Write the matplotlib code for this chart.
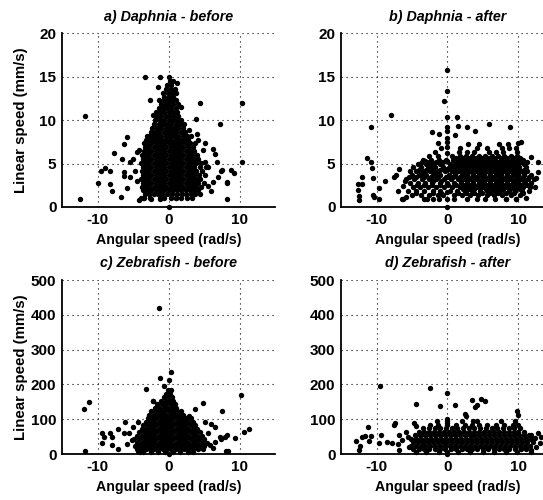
import matplotlib
matplotlib.use("Agg")
import matplotlib.pyplot as plt
import numpy as np

plt.rcParams['font.family'] = ['Liberation Sans', 'DejaVu Sans']
plt.rcParams['font.weight'] = 'bold'
plt.rcParams['axes.unicode_minus'] = False

# ---------------- data ----------------
titles = ["a) Daphnia - before", "b) Daphnia - after",
          "c) Zebrafish - before", "d) Zebrafish - after"]
x_label = "Angular speed (rad/s)"
y_label = "Linear speed (mm/s)"
x_ticks = [-10, 0, 10]
y_ticks_daphnia = [0, 5, 10, 15, 20]
y_ticks_zebrafish = [0, 100, 200, 300, 400, 500]

# dense cores: linear speed -> list of angular speeds
daphnia_before_core = {
    1.0: [-3.9, -3.5, -2.6, -1.2, -0.6, 0.3, 1.1, 1.7, 2.6, 3.3],
    1.45: [-3.3, -2.7, -2.0, -1.5, -0.9, -0.2, 0.5, 1.2, 1.9, 2.5, 3.1, 3.7, 4.5],
    1.9: [-3.6, -3.0, -2.4, -1.8, -1.2, -0.6, 0.0, 0.6, 1.2, 1.8, 2.4, 3.0, 3.6, 4.2],
    2.35: [-3.8, -3.3, -2.7, -2.1, -1.5, -0.9, -0.3, 0.3, 0.9, 1.5, 2.1, 2.7, 3.3, 3.9, 4.6],
    2.8: [-3.6, -3.0, -2.4, -1.8, -1.2, -0.6, 0.0, 0.6, 1.2, 1.8, 2.4, 3.0, 3.6, 4.2, 5.0],
    3.25: [-3.9, -3.3, -2.7, -2.1, -1.5, -0.9, -0.3, 0.3, 0.9, 1.5, 2.1, 2.7, 3.3, 3.9, 4.5],
    3.7: [-3.6, -3.0, -2.4, -1.8, -1.2, -0.6, 0.0, 0.6, 1.2, 1.8, 2.4, 3.0, 3.6, 4.3, 5.1],
    4.15: [-3.8, -3.3, -2.7, -2.1, -1.5, -0.9, -0.3, 0.3, 0.9, 1.5, 2.1, 2.7, 3.3, 3.9, 4.7],
    4.6: [-3.6, -3.0, -2.4, -1.8, -1.2, -0.6, 0.0, 0.6, 1.2, 1.8, 2.4, 3.0, 3.6, 4.4, 5.3],
    5.05: [-3.9, -3.3, -2.7, -2.1, -1.5, -0.9, -0.3, 0.3, 0.9, 1.5, 2.1, 2.7, 3.3, 3.9, 4.6],
    5.5: [-3.6, -3.0, -2.4, -1.8, -1.2, -0.6, 0.0, 0.6, 1.2, 1.8, 2.4, 3.0, 3.6, 4.2],
    5.95: [-3.8, -3.3, -2.7, -2.1, -1.5, -0.9, -0.3, 0.3, 0.9, 1.5, 2.1, 2.7, 3.3, 4.0],
    6.4: [-3.5, -3.0, -2.4, -1.8, -1.2, -0.6, 0.0, 0.6, 1.2, 1.8, 2.4, 3.0, 3.6],
    6.85: [-3.3, -2.7, -2.1, -1.5, -0.9, -0.3, 0.3, 0.9, 1.5, 2.1, 2.7, 3.4],
    7.3: [-3.5, -3.0, -2.4, -1.8, -1.2, -0.6, 0.0, 0.6, 1.2, 1.8, 2.4, 3.0, 3.7],
    7.75: [-3.1, -2.5, -1.9, -1.4, -0.8, -0.2, 0.4, 1.0, 1.6, 2.2, 2.8],
    8.2: [-2.8, -2.2, -1.6, -1.0, -0.4, 0.2, 0.8, 1.4, 2.0, 2.6, 3.2],
    8.65: [-2.5, -1.9, -1.3, -0.7, -0.1, 0.5, 1.1, 1.7, 2.3],
    9.1: [-2.3, -1.6, -1.0, -0.4, 0.2, 0.8, 1.4, 2.0],
    9.55: [-2.1, -1.4, -0.8, -0.2, 0.4, 1.0, 1.6, 2.2],
    10.0: [-1.9, -1.2, -0.6, 0.0, 0.6, 1.2, 1.7],
    10.45: [-1.6, -1.0, -0.4, 0.2, 0.8, 1.4],
    10.9: [-1.8, -1.2, -0.6, 0.0, 0.6, 1.2],
    11.35: [-1.4, -0.8, -0.2, 0.4, 1.0],
    11.8: [-1.1, -0.5, 0.1, 0.7, 1.3],
    12.25: [-1.3, -0.7, -0.1, 0.5, 1.0],
    12.7: [-0.6, 0.0, 0.6],
    13.15: [-0.8, -0.1, 0.5, 1.0],
    13.6: [-0.4, 0.3, 0.9],
    14.05: [-0.2, 0.4],
    14.5: [0.2, 0.7],
}
daphnia_before_scatter = [
    (-12.5, 0.9), (-11.7, 10.5), (10.4, 12.0), (10.4, 5.2), (8.2, 0.9), (4.4, 12.0),
    (3.9, 10.1), (7.3, 9.5), (-3.3, 14.9), (-1.2, 15.0), (0.0, 15.0), (-9.9, 2.8),
    (-9.5, 4.1), (-8.9, 4.5), (-8.2, 4.1), (-8.3, 2.6), (-7.9, 1.8), (-7.7, 6.2),
    (-6.7, 1.1), (-6.3, 7.2), (-6.6, 5.5), (-5.8, 8.0), (-6.3, 4.0), (-6.2, 3.6),
    (-5.8, 2.2), (-5.4, 3.4), (-5.4, 5.2), (-5.0, 5.5), (-4.7, 4.1), (-4.5, 6.3),
    (-4.1, 6.6), (-4.4, 3.0), (-4.1, 0.8), (-3.6, 1.0), (-2.4, 0.9), (5.2, 7.3),
    (6.2, 6.7), (6.6, 6.1), (6.8, 5.2), (7.0, 3.4), (7.4, 4.1), (8.2, 2.8),
    (8.8, 4.2), (9.2, 3.9), (6.0, 1.8), (6.2, 2.9), (5.6, 4.6), (5.5, 2.4),
    (4.0, 8.4), (2.9, 8.9), (1.8, 11.5), (-2.6, 12.3), (-2.2, 10.6), (-1.5, 13.8),
    (1.2, 14.2), (0.8, 13.4), (-3.0, 8.2), (0.0, 0.0), (-1.2, 0.9), (1.1, 1.0),
    (5.1, 5.2), (7.6, 4.3), (8.3, 2.9), (4.8, 6.6), (4.1, 7.7),
]

daphnia_after_core = {
    0.95: [-6.2, -3.3, -2.9, -2.0, -1.2, 0.9, 2.7, 4.1, 5.3, 6.7, 8.3, 9.6],
    1.4: [-5.0, -3.8, -2.6, -1.4, -0.6, 0.9, 2.0, 3.1, 4.3, 5.5, 6.6, 7.7, 8.9, 10.2],
    1.6: [-4.4, -2.0, -0.9, 1.5, 2.6, 3.7, 4.9, 6.0, 7.1, 8.3, 9.4, 10.6],
    1.85: [-5.5, -4.4, -3.3, -2.0, -1.0, 0.3, 1.4, 2.5, 3.5, 4.6, 5.6, 6.7, 7.6, 8.6, 9.5, 10.5, 11.5],
    2.05: [2.2, 3.0, 3.8, 4.6, 5.4, 6.2, 7.0, 7.8, 8.6, 9.4, 10.2],
    2.3: [-4.8, -3.9, -2.7, -1.6, -0.5, 0.6, 1.7, 2.6, 3.4, 4.2, 5.0, 5.8, 6.6, 7.4, 8.2, 9.0, 9.8, 10.7, 11.6, 12.3],
    2.5: [-4.3, -3.3, -2.2, -1.1, 0.1, 1.2, 2.2, 3.0, 3.8, 4.6, 5.4, 6.2, 7.0, 7.8, 8.6, 9.4, 10.3, 11.2],
    2.75: [-5.3, -4.2, -3.2, -2.2, -1.1, -0.1, 0.9, 1.9, 2.8, 3.6, 4.4, 5.2, 6.0, 6.8, 7.6, 8.4, 9.2, 10.0, 10.9, 11.8],
    2.95: [-2.0, -0.9, 1.9, 2.8, 3.6, 4.4, 5.2, 6.0, 6.8, 7.6, 8.4, 9.2, 10.0, 10.8],
    3.2: [-5.8, -4.7, -3.6, -2.6, -1.6, -0.5, 0.5, 1.5, 2.4, 3.2, 4.0, 4.8, 5.6, 6.4, 7.2, 8.0, 8.8, 9.6, 10.4, 11.3, 12.2],
    3.4: [-5.4, -4.4, -3.3, -2.3, -1.3, -0.2, 0.8, 1.8, 2.6, 3.4, 4.2, 5.0, 5.8, 6.6, 7.4, 8.2, 9.0, 9.8, 10.6, 11.5],
    3.65: [-5.0, -4.0, -3.0, -2.0, -1.0, 0.2, 1.0, 2.0, 2.8, 3.6, 4.4, 5.2, 6.0, 6.8, 7.6, 8.4, 9.2, 10.0, 10.8, 11.7],
    3.85: [-3.6, -1.8, 1.1, 2.0, 2.8, 3.6, 4.4, 5.2, 6.0, 6.8, 7.6, 8.4, 9.2, 10.0, 10.8],
    4.1: [-4.4, -3.4, -2.4, -1.4, -0.4, 0.6, 1.5, 2.4, 3.2, 4.0, 4.8, 5.6, 6.4, 7.2, 8.0, 8.8, 9.6, 10.4, 11.2],
    4.3: [-4.0, -3.0, -2.0, -1.0, 0.0, 1.0, 1.9, 2.8, 3.6, 4.4, 5.2, 6.0, 6.8, 7.6, 8.4, 9.2, 10.0, 10.8],
    4.55: [-4.8, -3.7, -2.7, -1.7, -0.7, 0.3, 1.2, 2.1, 2.9, 3.7, 4.5, 5.3, 6.1, 6.9, 7.7, 8.5, 9.3, 10.1, 11.0],
    4.75: [-2.3, 0.8, 1.6, 2.4, 3.2, 4.0, 4.8, 5.6, 6.4, 7.2, 8.0, 8.8, 9.6],
    5.0: [-4.1, -3.0, -2.0, -1.0, 0.4, 1.0, 1.9, 2.8, 3.6, 4.4, 5.2, 6.0, 6.8, 7.6, 8.4, 9.2, 10.0, 10.8],
    5.2: [-3.6, -2.6, -1.6, -0.6, 1.4, 2.3, 3.1, 3.9, 4.7, 5.5, 6.3, 7.1, 7.9, 8.7, 9.5, 10.3, 11.2],
    5.45: [-3.4, -2.3, -1.2, -0.2, 0.8, 1.8, 2.7, 3.5, 4.3, 5.1, 5.9, 6.7, 7.5, 8.3, 9.1, 9.9, 10.7],
    5.65: [1.2, 2.2, 3.1, 4.0, 4.9, 5.7, 6.6, 7.5, 8.4, 9.3, 10.2],
    5.9: [-2.6, -1.4, 0.7, 1.7, 2.6, 3.5, 4.4, 5.3, 6.2, 7.1, 8.0, 8.9, 9.8],
    6.35: [-1.8, 1.6, 2.7, 3.8, 5.8, 6.8, 7.8, 9.8],
    6.8: [-0.9, 1.8, 4.2, 5.5, 7.7, 8.7, 9.6],
    7.25: [2.9, 4.4, 7.2, 8.5],
}
daphnia_after_scatter = [
    (-12.6, 2.6), (-12.6, 1.9), (-12.5, 1.3), (-12.5, 0.8), (-12.1, 3.5), (-12.1, 2.6),
    (-11.3, 5.6), (-10.8, 5.2), (-10.7, 4.5), (-10.5, 3.3), (-10.5, 1.4), (-10.4, 1.1),
    (-9.6, 0.9), (-9.6, 2.2), (-8.8, 3.0), (-7.5, 3.5), (-7.2, 3.7), (-6.9, 4.4),
    (-7.0, 1.8), (-6.4, 0.9), (-6.3, 2.4), (-10.8, 9.2), (-7.9, 10.6), (-0.5, 12.2),
    (1.3, 10.4), (5.9, 9.5), (8.8, 9.2), (-2.2, 8.6), (-1.2, 8.4), (-1.4, 7.4),
    (1.5, 9.3), (2.7, 9.2), (1.0, 8.3), (3.9, 8.7), (12.8, 5.2), (12.7, 4.0),
    (12.4, 3.3), (11.8, 5.8), (11.0, 1.0), (9.6, 0.9), (8.2, 0.9), (10.4, 7.5),
    (10.0, 7.3), (-3.2, 5.3), (-4.0, 5.0), (-5.3, 4.1), (-6.0, 3.0), (-5.9, 1.2),
    (0.0, 0.0), (0.0, 0.9), (0.0, 1.7), (0.0, 2.6), (0.0, 3.5), (0.0, 4.4),
    (0.0, 5.3), (0.0, 6.2), (0.0, 6.9), (0.0, 7.5), (0.0, 7.9), (0.0, 8.7),
    (0.0, 9.2), (0.0, 10.4), (0.0, 13.3), (0.0, 15.8),
]

zebrafish_before_core = {
    5: [-4.0, -3.6, -2.4, -1.5, -0.5, 0.6, 1.6, 2.7, 3.4],
    13: [-4.4, -3.8, -3.2, -2.6, -2.0, -1.4, -0.8, -0.2, 0.4, 1.0, 1.6, 2.2, 2.8, 3.4, 4.1, 4.8],
    23: [-4.7, -4.1, -3.5, -2.9, -2.3, -1.7, -1.1, -0.5, 0.1, 0.7, 1.3, 1.9, 2.5, 3.1, 3.7, 4.3, 5.0],
    33: [-4.4, -3.8, -3.2, -2.6, -2.0, -1.4, -0.8, -0.2, 0.4, 1.0, 1.6, 2.2, 2.8, 3.4, 4.0, 4.7, 5.4],
    43: [-4.8, -4.1, -3.5, -2.9, -2.3, -1.7, -1.1, -0.5, 0.1, 0.7, 1.3, 1.9, 2.5, 3.1, 3.7, 4.3, 5.0],
    53: [-4.5, -3.8, -3.2, -2.6, -2.0, -1.4, -0.8, -0.2, 0.4, 1.0, 1.6, 2.2, 2.8, 3.4, 4.0, 4.7],
    63: [-4.1, -3.5, -2.9, -2.3, -1.7, -1.1, -0.5, 0.1, 0.7, 1.3, 1.9, 2.5, 3.1, 3.7, 4.4],
    73: [-3.8, -3.2, -2.6, -2.0, -1.4, -0.8, -0.2, 0.4, 1.0, 1.6, 2.2, 2.8, 3.4, 4.0],
    83: [-3.6, -2.9, -2.3, -1.7, -1.1, -0.5, 0.1, 0.7, 1.3, 1.9, 2.5, 3.1, 3.8],
    93: [-3.2, -2.6, -2.0, -1.4, -0.8, -0.2, 0.4, 1.0, 1.6, 2.2, 2.8, 3.5],
    103: [-2.9, -2.3, -1.7, -1.1, -0.5, 0.1, 0.7, 1.3, 1.9, 2.5, 3.2],
    113: [-2.7, -2.1, -1.5, -0.9, -0.3, 0.3, 0.9, 1.5, 2.1],
    123: [-2.5, -1.8, -1.2, -0.6, 0.0, 0.6, 1.2, 1.8],
    133: [-1.9, -1.3, -0.7, -0.1, 0.5, 1.1],
    143: [-1.6, -0.9, -0.3, 0.3, 0.9],
    153: [-2.2, -1.0, -0.4, 0.2, 0.7],
    163: [-0.6, 0.0, 0.5],
    173: [-0.4, 0.2],
    185: [-0.1, 0.4],
}
zebrafish_before_scatter = [
    (-1.3, 420), (0.3, 237), (0.1, 212), (-0.7, 195), (-1.2, 217), (-3.2, 188),
    (10.2, 169), (-11.2, 148), (-11.9, 129), (4.9, 147), (7.6, 124), (-11.7, 10),
    (10.6, 64), (11.4, 71), (9.4, 45), (8.1, 10), (8.4, 10), (-9.4, 59), (-9.1, 50),
    (-9.4, 32), (-8.2, 59), (-8.0, 50), (-8.0, 26), (-7.1, 13), (-7.1, 71), (-6.3, 59),
    (-6.1, 93), (-5.5, 61), (-5.2, 40), (-5.0, 78), (-4.3, 93), (-4.3, 9), (-3.6, 9),
    (-5.8, 30), (5.1, 93), (6.0, 86), (6.6, 78), (6.6, 35), (7.2, 50), (7.4, 42),
    (7.9, 50), (8.3, 55), (5.6, 60), (5.8, 25), (6.2, 18), (3.7, 128), (2.9, 110),
    (-2.2, 153), (0.0, 0),
]

zebrafish_after_core = {
    6: [-4.5, -3.0, -1.2, 0.0, 1.5, 3.2, 5.0, 6.5, 8.3, 9.8, 11.7],
    14: [-4.8, -4.0, -3.3, -2.6, -1.8, -1.0, -0.3, 0.5, 1.2, 2.0, 2.7, 3.5, 4.2, 5.0, 5.7, 6.5, 7.2, 8.0, 8.7, 9.5, 10.3, 11.0],
    24: [-5.2, -4.5, -3.8, -3.1, -2.4, -1.7, -1.0, -0.3, 0.4, 1.1, 1.8, 2.5, 3.2, 3.9, 4.6, 5.3, 6.0, 6.7, 7.4, 8.1, 8.8, 9.5, 10.2, 10.9, 11.6],
    34: [-4.9, -4.2, -3.5, -2.8, -2.1, -1.4, -0.7, 0.0, 0.7, 1.4, 2.1, 2.8, 3.5, 4.2, 4.9, 5.6, 6.3, 7.0, 7.7, 8.4, 9.1, 9.8, 10.5, 11.2, 12.0],
    44: [-5.1, -4.4, -3.7, -3.0, -2.3, -1.6, -0.9, -0.2, 0.5, 1.2, 1.9, 2.6, 3.3, 4.0, 4.7, 5.4, 6.1, 6.8, 7.5, 8.2, 8.9, 9.6, 10.3, 11.0, 11.8],
    54: [-4.6, -3.9, -3.2, -2.5, -1.8, -1.1, -0.4, 0.3, 1.0, 1.7, 2.4, 3.1, 3.8, 4.5, 5.2, 5.9, 6.6, 7.3, 8.0, 8.7, 9.4, 10.1, 10.8, 11.5],
    64: [-4.0, -3.3, -2.6, -1.9, -1.2, -0.5, 0.2, 0.9, 1.6, 2.3, 3.0, 3.7, 4.4, 5.1, 5.8, 6.5, 7.2, 7.9, 8.6, 9.3, 10.0, 10.8],
    74: [-3.4, -2.6, -1.8, -1.0, -0.2, 0.6, 1.4, 2.2, 3.0, 3.8, 4.6, 5.4, 6.2, 7.0, 7.8, 8.6, 9.4, 10.2],
    84: [-2.5, -1.3, -0.1, 1.2, 2.5, 3.5, 4.4, 5.6, 6.8, 8.0, 9.2, 10.0],
    95: [-1.5, 0.0, 2.0, 3.6, 4.2, 7.5, 9.5],
}
zebrafish_after_scatter = [
    (-9.5, 196), (-2.4, 189), (0.0, 176), (-4.4, 143), (-1.0, 138), (1.1, 141),
    (3.4, 156), (4.7, 158), (3.9, 135), (4.1, 140), (5.3, 152), (2.4, 116), (2.6, 108),
    (9.8, 124), (10.0, 111), (-7.4, 88), (-7.5, 83), (-11.2, 78), (-11.6, 53),
    (-10.8, 52), (-11.0, 38), (-12.0, 50), (-12.9, 38), (-12.4, 11), (-12.3, 23),
    (-9.7, 31), (-9.3, 55), (-8.5, 35), (-7.8, 32), (-6.9, 55), (-6.8, 11), (-5.9, 64),
    (-5.6, 50), (-5.4, 21), (-4.7, 88), (-4.5, 80), (11.7, 55), (12.3, 45), (12.8, 60),
    (13.0, 32), (13.2, 50), (11.7, 11), (0.0, 0), (0.0, 100), (0.0, 90), (-6.4, 40),
    (-7.0, 30), (12.5, 20),
]


def collect(core, scatter):
    xs, ys = [], []
    for yv, row in core.items():
        xs.extend(row)
        ys.extend([yv] * len(row))
    for xv, yv in scatter:
        xs.append(xv)
        ys.append(yv)
    return np.array(xs), np.array(ys)


panels = [
    (daphnia_before_core, daphnia_before_scatter, y_ticks_daphnia),
    (daphnia_after_core, daphnia_after_scatter, y_ticks_daphnia),
    (zebrafish_before_core, zebrafish_before_scatter, y_ticks_zebrafish),
    (zebrafish_after_core, zebrafish_after_scatter, y_ticks_zebrafish),
]

W, H = 543, 500
fig = plt.figure(figsize=(W / 100, H / 100), dpi=100)
boxes = [
    [62 / W, 293 / H, 213 / W, 174 / H],
    [341 / W, 293 / H, 213 / W, 174 / H],
    [62 / W, 46 / H, 213 / W, 174 / H],
    [341 / W, 46 / H, 213 / W, 174 / H],
]

for i, ((core, scatter, yt), box) in enumerate(zip(panels, boxes)):
    ax = fig.add_axes(box)
    xs, ys = collect(core, scatter)
    ax.scatter(xs, ys, s=15, c='black', linewidths=0, zorder=3, clip_on=False)
    ax.set_xlim(-15, 15)
    ax.set_ylim(yt[0], yt[-1])
    ax.set_xticks(x_ticks)
    ax.set_yticks(yt)
    ax.set_xticklabels([str(v) for v in x_ticks])
    ax.set_yticklabels([str(v) for v in yt])
    ax.tick_params(length=0, labelsize=11, pad=4)
    for lab in ax.get_xticklabels() + ax.get_yticklabels():
        lab.set_fontweight('bold')
    ax.grid(True, color='black', linestyle=(0, (1, 3.5)), linewidth=0.8)
    ax.set_axisbelow(True)
    for side in ('top', 'right'):
        ax.spines[side].set_visible(False)
    for side in ('left', 'bottom'):
        ax.spines[side].set_linewidth(1.3)
        ax.spines[side].set_zorder(2.5)
    ax.set_title(titles[i], fontsize=10.3, fontweight='bold', fontstyle='italic', pad=9)
    ax.set_xlabel(x_label, fontsize=10.2, fontweight='bold', labelpad=4.5)
    if i in (0, 2):
        ax.set_ylabel(y_label, fontsize=10.8, fontweight='bold')
        ax.yaxis.set_label_coords(-0.16, 0.5)

fig.savefig("out.png", dpi=100)
